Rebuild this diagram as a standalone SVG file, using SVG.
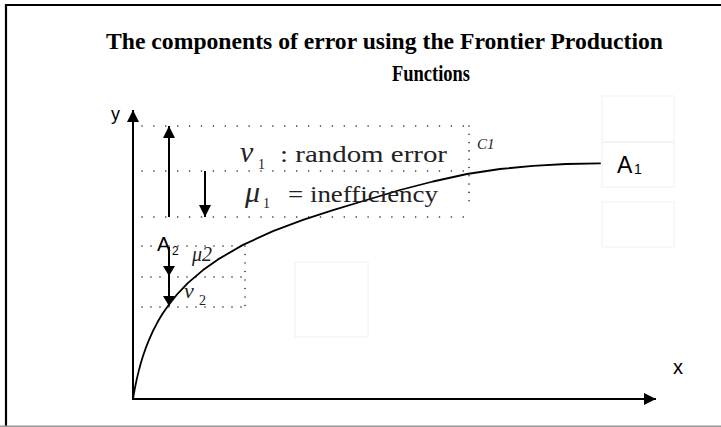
<svg xmlns="http://www.w3.org/2000/svg" width="721" height="427" viewBox="0 0 721 427">
<style>
.title{font-family:"Liberation Serif","Times New Roman",serif;font-weight:bold;font-size:24px;fill:#000}
.sans{font-family:"Liberation Sans",Arial,sans-serif;fill:#000}
.ser{font-family:"Liberation Serif","Times New Roman",serif;fill:#222}
.it{font-style:italic}
.dot{stroke:#222;stroke-width:1.6;stroke-linecap:round;fill:none}
.ax{stroke:#000;stroke-width:2;fill:none}
.arr{stroke:#000;stroke-width:2;fill:none}
.ghost{fill:none;stroke:#f0f0f0;stroke-width:1}
</style>
<defs>
<marker id="ah" markerUnits="userSpaceOnUse" markerWidth="12" markerHeight="12" viewBox="0 0 12 12" refX="12" refY="6" orient="auto">
<path d="M0,0 L12,6 L0,12 z" fill="#000"/>
</marker>
<marker id="ahs" markerUnits="userSpaceOnUse" markerWidth="10" markerHeight="12" viewBox="0 0 10 12" refX="10" refY="6" orient="auto">
<path d="M0,0 L10,6 L0,12 z" fill="#000"/>
</marker>
</defs>
<rect width="721" height="427" fill="#fff"/>
<g id="frame">
<line x1="5" y1="5" x2="721" y2="5" stroke="#000" stroke-width="2.2"/>
<line x1="6" y1="4" x2="6" y2="427" stroke="#000" stroke-width="2.2"/>
<line x1="0" y1="426.3" x2="721" y2="426.3" stroke="#999" stroke-width="1.4"/>
</g>
<g id="title">
<text class="title" x="106" y="49" textLength="557" lengthAdjust="spacingAndGlyphs">The components of error using the Frontier Production</text>
<text class="title" x="392" y="81" textLength="78" lengthAdjust="spacingAndGlyphs">Functions</text>
</g>
<g id="ghost-boxes">
<rect class="ghost" x="602" y="96" width="72" height="46"/>
<rect class="ghost" x="602" y="142" width="72" height="45"/>
<rect class="ghost" x="602" y="202" width="72" height="45"/>
<rect class="ghost" x="295" y="262" width="73" height="75"/>
</g>
<g id="axes">
<line class="ax" x1="133" y1="400" x2="133" y2="110" marker-end="url(#ah)"/>
<line class="ax" x1="132" y1="399" x2="656" y2="399" marker-end="url(#ah)"/>
<text class="sans" x="111" y="120" font-size="18">y</text>
<text class="sans" x="673" y="374" font-size="20">x</text>
</g>
<g id="box1">
<path class="dot" stroke-dasharray="0 11.9" d="M142,126 H464 M142,171 H464 M142,217 H464"/>
<path class="dot" stroke-dasharray="0 8.3" d="M469,126 V209"/>
</g>
<g id="box2">
<path class="dot" stroke-dasharray="0 9" d="M142,246 H245 M142,277 H245 M142,307 H245"/>
<path class="dot" stroke-dasharray="0 8.5" d="M245,246 V307"/>
</g>
<g id="curve">
<polyline points="133,399 133.5,396 134,393.1 135,387.7 136,382.7 137,378.1 139,369.9 141,362.6 143,356 146,347.4 149,339.8 153,330.9 158,321.3 163,313 169,304.4 178,293.3 188,282.9 203,270.1 218,259.4 243,244.9 273,231.1 303,219.8 333,210.2 360,202 400,190 433,181.5 467,174 500,169 533,165.8 566,164 600,163.4" fill="none" stroke="#000" stroke-width="1.8" stroke-linejoin="round" stroke-linecap="round"/>
</g>
<g id="labels">
<text class="ser it" x="240" y="162" font-size="30">ν</text>
<text class="ser" x="258" y="169" font-size="14">1</text>
<text class="ser" x="280" y="162" font-size="24" fill="#333" textLength="167" lengthAdjust="spacingAndGlyphs">: random error</text>
<text class="ser it" x="245" y="202" font-size="30">μ</text>
<text class="ser" x="263" y="208" font-size="14">1</text>
<text class="ser" x="288" y="202" font-size="24" fill="#333" textLength="150" lengthAdjust="spacingAndGlyphs">= inefficiency</text>
<text class="ser it" x="477" y="149" font-size="15" fill="#555">C1</text>
<text class="sans" x="617" y="173" font-size="23">A</text>
<text class="sans" x="634" y="174" font-size="14">1</text>
<text class="sans" x="157" y="251" font-size="20">A</text>
<text class="sans" x="172" y="255" font-size="12">2</text>
<text class="ser it" x="192" y="261" font-size="20" fill="#555">μ2</text>
<text class="ser it" x="184" y="298" font-size="22">ν</text>
<text class="ser" x="199" y="305" font-size="14" fill="#444">2</text>
</g>
<g id="connectors">
<line class="arr" x1="169" y1="217" x2="169" y2="126" marker-end="url(#ah)"/>
<line class="arr" x1="205" y1="171" x2="205" y2="217" marker-end="url(#ah)"/>
<path class="arr" d="M169,247 L169,276 L169,306" marker-mid="url(#ahs)" marker-end="url(#ahs)"/>
</g>
</svg>
